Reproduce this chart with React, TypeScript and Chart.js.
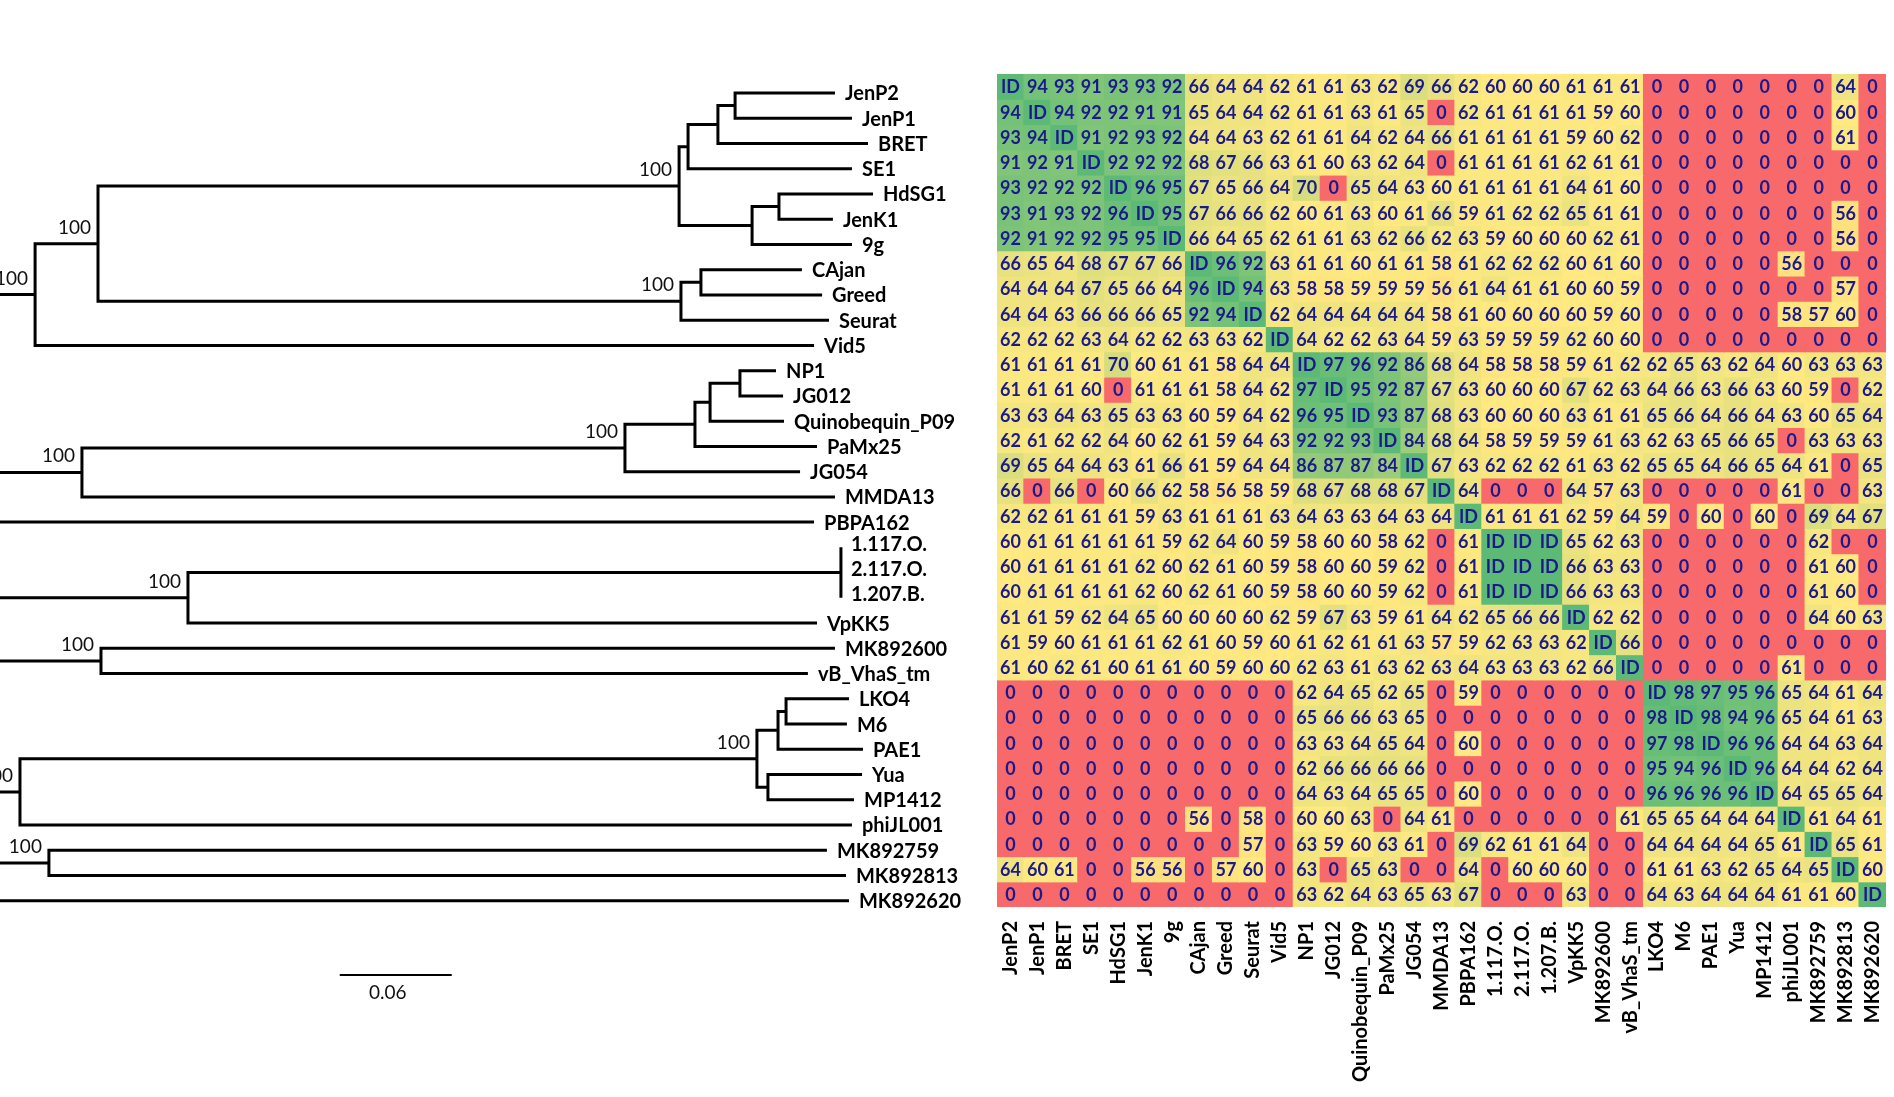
import React, { useEffect, useRef } from 'react';
import { Chart, registerables } from 'chart.js';

Chart.register(...registerables);

// ---------------- DATA ----------------
const phages = [
  'JenP2', 'JenP1', 'BRET', 'SE1', 'HdSG1', 'JenK1', '9g', 'CAjan', 'Greed', 'Seurat', 'Vid5',
  'NP1', 'JG012', 'Quinobequin_P09', 'PaMx25', 'JG054', 'MMDA13', 'PBPA162',
  '1.117.O.', '2.117.O.', '1.207.B.', 'VpKK5', 'MK892600', 'vB_VhaS_tm',
  'LKO4', 'M6', 'PAE1', 'Yua', 'MP1412', 'phiJL001', 'MK892759', 'MK892813', 'MK892620',
];

type Cell = number | 'ID';
const ID = 'ID' as const;

const rJenP2: Cell[] = [ID, 94, 93, 91, 93, 93, 92, 66, 64, 64, 62, 61, 61, 63, 62, 69, 66, 62, 60, 60, 60, 61, 61, 61, 0, 0, 0, 0, 0, 0, 0, 64, 0];
const rJenP1: Cell[] = [94, ID, 94, 92, 92, 91, 91, 65, 64, 64, 62, 61, 61, 63, 61, 65, 0, 62, 61, 61, 61, 61, 59, 60, 0, 0, 0, 0, 0, 0, 0, 60, 0];
const rBRET: Cell[] = [93, 94, ID, 91, 92, 93, 92, 64, 64, 63, 62, 61, 61, 64, 62, 64, 66, 61, 61, 61, 61, 59, 60, 62, 0, 0, 0, 0, 0, 0, 0, 61, 0];
const rSE1: Cell[] = [91, 92, 91, ID, 92, 92, 92, 68, 67, 66, 63, 61, 60, 63, 62, 64, 0, 61, 61, 61, 61, 62, 61, 61, 0, 0, 0, 0, 0, 0, 0, 0, 0];
const rHdSG1: Cell[] = [93, 92, 92, 92, ID, 96, 95, 67, 65, 66, 64, 70, 0, 65, 64, 63, 60, 61, 61, 61, 61, 64, 61, 60, 0, 0, 0, 0, 0, 0, 0, 0, 0];
const rJenK1: Cell[] = [93, 91, 93, 92, 96, ID, 95, 67, 66, 66, 62, 60, 61, 63, 60, 61, 66, 59, 61, 62, 62, 65, 61, 61, 0, 0, 0, 0, 0, 0, 0, 56, 0];
const r9g: Cell[] = [92, 91, 92, 92, 95, 95, ID, 66, 64, 65, 62, 61, 61, 63, 62, 66, 62, 63, 59, 60, 60, 60, 62, 61, 0, 0, 0, 0, 0, 0, 0, 56, 0];
const rCAjan: Cell[] = [66, 65, 64, 68, 67, 67, 66, ID, 96, 92, 63, 61, 61, 60, 61, 61, 58, 61, 62, 62, 62, 60, 61, 60, 0, 0, 0, 0, 0, 56, 0, 0, 0];
const rGreed: Cell[] = [64, 64, 64, 67, 65, 66, 64, 96, ID, 94, 63, 58, 58, 59, 59, 59, 56, 61, 64, 61, 61, 60, 60, 59, 0, 0, 0, 0, 0, 0, 0, 57, 0];
const rSeurat: Cell[] = [64, 64, 63, 66, 66, 66, 65, 92, 94, ID, 62, 64, 64, 64, 64, 64, 58, 61, 60, 60, 60, 60, 59, 60, 0, 0, 0, 0, 0, 58, 57, 60, 0];
const rVid5: Cell[] = [62, 62, 62, 63, 64, 62, 62, 63, 63, 62, ID, 64, 62, 62, 63, 64, 59, 63, 59, 59, 59, 62, 60, 60, 0, 0, 0, 0, 0, 0, 0, 0, 0];
const rNP1: Cell[] = [61, 61, 61, 61, 70, 60, 61, 61, 58, 64, 64, ID, 97, 96, 92, 86, 68, 64, 58, 58, 58, 59, 61, 62, 62, 65, 63, 62, 64, 60, 63, 63, 63];
const rJG012: Cell[] = [61, 61, 61, 60, 0, 61, 61, 61, 58, 64, 62, 97, ID, 95, 92, 87, 67, 63, 60, 60, 60, 67, 62, 63, 64, 66, 63, 66, 63, 60, 59, 0, 62];
const rQuino: Cell[] = [63, 63, 64, 63, 65, 63, 63, 60, 59, 64, 62, 96, 95, ID, 93, 87, 68, 63, 60, 60, 60, 63, 61, 61, 65, 66, 64, 66, 64, 63, 60, 65, 64];
const rPaMx25: Cell[] = [62, 61, 62, 62, 64, 60, 62, 61, 59, 64, 63, 92, 92, 93, ID, 84, 68, 64, 58, 59, 59, 59, 61, 63, 62, 63, 65, 66, 65, 0, 63, 63, 63];
const rJG054: Cell[] = [69, 65, 64, 64, 63, 61, 66, 61, 59, 64, 64, 86, 87, 87, 84, ID, 67, 63, 62, 62, 62, 61, 63, 62, 65, 65, 64, 66, 65, 64, 61, 0, 65];
const rMMDA13: Cell[] = [66, 0, 66, 0, 60, 66, 62, 58, 56, 58, 59, 68, 67, 68, 68, 67, ID, 64, 0, 0, 0, 64, 57, 63, 0, 0, 0, 0, 0, 61, 0, 0, 63];
const rPBPA162: Cell[] = [62, 62, 61, 61, 61, 59, 63, 61, 61, 61, 63, 64, 63, 63, 64, 63, 64, ID, 61, 61, 61, 62, 59, 64, 59, 0, 60, 0, 60, 0, 69, 64, 67];
const r1117O: Cell[] = [60, 61, 61, 61, 61, 61, 59, 62, 64, 60, 59, 58, 60, 60, 58, 62, 0, 61, ID, ID, ID, 65, 62, 63, 0, 0, 0, 0, 0, 0, 62, 0, 0];
const r2117O: Cell[] = [60, 61, 61, 61, 61, 62, 60, 62, 61, 60, 59, 58, 60, 60, 59, 62, 0, 61, ID, ID, ID, 66, 63, 63, 0, 0, 0, 0, 0, 0, 61, 60, 0];
const r1207B: Cell[] = [60, 61, 61, 61, 61, 62, 60, 62, 61, 60, 59, 58, 60, 60, 59, 62, 0, 61, ID, ID, ID, 66, 63, 63, 0, 0, 0, 0, 0, 0, 61, 60, 0];
const rVpKK5: Cell[] = [61, 61, 59, 62, 64, 65, 60, 60, 60, 60, 62, 59, 67, 63, 59, 61, 64, 62, 65, 66, 66, ID, 62, 62, 0, 0, 0, 0, 0, 0, 64, 60, 63];
const rMK892600: Cell[] = [61, 59, 60, 61, 61, 61, 62, 61, 60, 59, 60, 61, 62, 61, 61, 63, 57, 59, 62, 63, 63, 62, ID, 66, 0, 0, 0, 0, 0, 0, 0, 0, 0];
const rVhaS: Cell[] = [61, 60, 62, 61, 60, 61, 61, 60, 59, 60, 60, 62, 63, 61, 63, 62, 63, 64, 63, 63, 63, 62, 66, ID, 0, 0, 0, 0, 0, 61, 0, 0, 0];
const rLKO4: Cell[] = [0, 0, 0, 0, 0, 0, 0, 0, 0, 0, 0, 62, 64, 65, 62, 65, 0, 59, 0, 0, 0, 0, 0, 0, ID, 98, 97, 95, 96, 65, 64, 61, 64];
const rM6: Cell[] = [0, 0, 0, 0, 0, 0, 0, 0, 0, 0, 0, 65, 66, 66, 63, 65, 0, 0, 0, 0, 0, 0, 0, 0, 98, ID, 98, 94, 96, 65, 64, 61, 63];
const rPAE1: Cell[] = [0, 0, 0, 0, 0, 0, 0, 0, 0, 0, 0, 63, 63, 64, 65, 64, 0, 60, 0, 0, 0, 0, 0, 0, 97, 98, ID, 96, 96, 64, 64, 63, 64];
const rYua: Cell[] = [0, 0, 0, 0, 0, 0, 0, 0, 0, 0, 0, 62, 66, 66, 66, 66, 0, 0, 0, 0, 0, 0, 0, 0, 95, 94, 96, ID, 96, 64, 64, 62, 64];
const rMP1412: Cell[] = [0, 0, 0, 0, 0, 0, 0, 0, 0, 0, 0, 64, 63, 64, 65, 65, 0, 60, 0, 0, 0, 0, 0, 0, 96, 96, 96, 96, ID, 64, 65, 65, 64];
const rPhiJL001: Cell[] = [0, 0, 0, 0, 0, 0, 0, 56, 0, 58, 0, 60, 60, 63, 0, 64, 61, 0, 0, 0, 0, 0, 0, 61, 65, 65, 64, 64, 64, ID, 61, 64, 61];
const rMK892759: Cell[] = [0, 0, 0, 0, 0, 0, 0, 0, 0, 57, 0, 63, 59, 60, 63, 61, 0, 69, 62, 61, 61, 64, 0, 0, 64, 64, 64, 64, 65, 61, ID, 65, 61];
const rMK892813: Cell[] = [64, 60, 61, 0, 0, 56, 56, 0, 57, 60, 0, 63, 0, 65, 63, 0, 0, 64, 0, 60, 60, 60, 0, 0, 61, 61, 63, 62, 65, 64, 65, ID, 60];
const rMK892620: Cell[] = [0, 0, 0, 0, 0, 0, 0, 0, 0, 0, 0, 63, 62, 64, 63, 65, 63, 67, 0, 0, 0, 63, 0, 0, 64, 63, 64, 64, 64, 61, 61, 60, ID];

const identityRows: Cell[][] = [
  rJenP2, rJenP1, rBRET, rSE1, rHdSG1, rJenK1, r9g, rCAjan, rGreed, rSeurat, rVid5,
  rNP1, rJG012, rQuino, rPaMx25, rJG054, rMMDA13, rPBPA162,
  r1117O, r2117O, r1207B, rVpKK5, rMK892600, rVhaS,
  rLKO4, rM6, rPAE1, rYua, rMP1412, rPhiJL001, rMK892759, rMK892813, rMK892620,
];

// Tree: [node, parent, distance from the left edge of the drawing (substitutions/site)]
const treeEdges: [string, string, number][] = [
  ['g1', 'root', 0.0188],
  ['A', 'g1', 0.0525],
  ['B', 'A', 0.3638],
  ['C', 'B', 0.3686],
  ['D', 'C', 0.3846],
  ['E', 'D', 0.3938],
  ['JenP2', 'E', 0.4473],
  ['JenP1', 'E', 0.4564],
  ['BRET', 'D', 0.465],
  ['SE1', 'C', 0.4564],
  ['F', 'B', 0.4029],
  ['G', 'F', 0.4173],
  ['HdSG1', 'G', 0.4677],
  ['JenK1', 'G', 0.4462],
  ['9g', 'F', 0.4564],
  ['H', 'A', 0.3648],
  ['I', 'H', 0.3755],
  ['CAjan', 'I', 0.4296],
  ['Greed', 'I', 0.4404],
  ['Seurat', 'H', 0.4441],
  ['Vid5', 'g1', 0.4361],
  ['N', 'root', 0.0439],
  ['M', 'N', 0.3348],
  ['L', 'M', 0.3723],
  ['K', 'L', 0.3804],
  ['J', 'K', 0.3964],
  ['NP1', 'J', 0.4157],
  ['JG012', 'J', 0.4195],
  ['Quinobequin_P09', 'K', 0.42],
  ['PaMx25', 'L', 0.4377],
  ['JG054', 'M', 0.4286],
  ['MMDA13', 'N', 0.4473],
  ['PBPA162', 'root', 0.4361],
  ['O', 'root', 0.1007],
  ['T3', 'O', 0.4505],
  ['1.117.O.', 'T3', 0.4505],
  ['2.117.O.', 'T3', 0.4505],
  ['1.207.B.', 'T3', 0.4505],
  ['VpKK5', 'O', 0.4377],
  ['P', 'root', 0.0541],
  ['MK892600', 'P', 0.4473],
  ['vB_VhaS_tm', 'P', 0.4328],
  ['Q', 'root', 0.0107],
  ['R', 'Q', 0.4055],
  ['S', 'R', 0.4168],
  ['Tn', 'S', 0.4211],
  ['LKO4', 'Tn', 0.4548],
  ['M6', 'Tn', 0.4537],
  ['PAE1', 'S', 0.4623],
  ['U', 'R', 0.4114],
  ['Yua', 'U', 0.4618],
  ['MP1412', 'U', 0.4575],
  ['phiJL001', 'Q', 0.4564],
  ['V', 'root', 0.0262],
  ['MK892759', 'V', 0.443],
  ['MK892813', 'V', 0.4532],
  ['MK892620', 'root', 0.4548],
];
const rootDistance = -0.03;

const supportNodes = ['g1', 'A', 'B', 'H', 'N', 'M', 'O', 'P', 'Q', 'R', 'V'];
const supportValues = [100, 100, 100, 100, 100, 100, 100, 100, 100, 100, 100];

const scaleBarLength = 0.06;
const scaleBarLabel = '0.06';

// ---------------- LAYOUT / STYLE ----------------
const W = 1894;
const H = 1097;
const heatLeft = 997;
const heatTop = 74;
const heatW = 889;
const heatH = 833;
const treeW = 990;
const rowPx = heatH / phages.length;
const firstLeafPx = 93;
const pxPerUnit = 112 / 0.06;
const scaleBarStart = 0.182;
const scaleBarRow = 34.94;
const FONT = 'Lato, "Open Sans", "DejaVu Sans", sans-serif';

const cLow = [248, 105, 107];
const cMid = [255, 233, 128];
const cHigh = [92, 186, 118];
function cellColor(v: Cell): string {
  const n = v === 'ID' ? 100 : v;
  let a: number[], b: number[], t: number;
  if (n <= 60) { a = cLow; b = cMid; t = n / 60; } else { a = cMid; b = cHigh; t = (n - 60) / 40; }
  const c = a.map((x, k) => Math.round(x + (b[k] - x) * t));
  return `rgb(${c[0]},${c[1]},${c[2]})`;
}

// ---------------- TREE GEOMETRY ----------------
function buildTree() {
  const dist: Record<string, number> = { root: rootDistance };
  const parent: Record<string, string> = {};
  const children: Record<string, string[]> = {};
  treeEdges.forEach(([n, p, d]) => {
    dist[n] = d;
    parent[n] = p;
    (children[p] = children[p] || []).push(n);
  });
  const yOf: Record<string, number> = {};
  phages.forEach((n, i) => { yOf[n] = i; });
  const calcY = (n: string): number => {
    if (yOf[n] !== undefined) return yOf[n];
    const ys = children[n].map(calcY);
    yOf[n] = (Math.min(...ys) + Math.max(...ys)) / 2;
    return yOf[n];
  };
  calcY('root');
  const segments: { x: number; y: number }[][] = [];
  Object.keys(children).forEach((n) => {
    const ch = [...children[n]].sort((a, b) => yOf[a] - yOf[b]);
    const first = ch[0];
    const last = ch[ch.length - 1];
    segments.push([
      { x: dist[first], y: yOf[first] },
      { x: dist[n], y: yOf[first] },
      { x: dist[n], y: yOf[last] },
      { x: dist[last], y: yOf[last] },
    ]);
    ch.slice(1, -1).forEach((c) => {
      segments.push([{ x: dist[n], y: yOf[c] }, { x: dist[c], y: yOf[c] }]);
    });
  });
  return { dist, parent, yOf, segments };
}

export default function App() {
  const treeRef = useRef<HTMLCanvasElement>(null);
  const heatRef = useRef<HTMLCanvasElement>(null);

  useEffect(() => {
    document.body.style.margin = '0';
    const { dist, parent, yOf, segments } = buildTree();
    const yMin = -firstLeafPx / rowPx;
    const yMax = yMin + H / rowPx;

    const treeDatasets: any[] = segments.map((seg) => ({
      data: seg,
      showLine: true,
      borderColor: '#000',
      borderWidth: 3,
      pointRadius: 0,
      borderJoinStyle: 'miter',
      borderCapStyle: 'butt',
    }));
    treeDatasets.push({
      data: [
        { x: scaleBarStart, y: scaleBarRow },
        { x: scaleBarStart + scaleBarLength, y: scaleBarRow },
      ],
      showLine: true,
      borderColor: '#000',
      borderWidth: 2,
      pointRadius: 0,
    });

    const treeLabels = {
      id: 'treeLabels',
      afterDatasetsDraw(chart: any) {
        const ctx = chart.ctx;
        const xs = chart.scales.x;
        const ys = chart.scales.y;
        ctx.save();
        ctx.fillStyle = '#000';
        ctx.font = `bold 20px ${FONT}`;
        ctx.textAlign = 'left';
        ctx.textBaseline = 'middle';
        phages.forEach((n) => {
          const collapsed = dist[n] === dist[parent[n]];
          ctx.fillText(
            n,
            xs.getPixelForValue(dist[n]) + 10,
            ys.getPixelForValue(yOf[n]) + (collapsed ? -3 : 1)
          );
        });
        ctx.font = `19px ${FONT}`;
        ctx.fillStyle = '#111';
        ctx.textAlign = 'right';
        ctx.textBaseline = 'alphabetic';
        supportNodes.forEach((n, k) => {
          ctx.fillText(String(supportValues[k]), xs.getPixelForValue(dist[n]) - 7, ys.getPixelForValue(yOf[n]) - 10);
        });
        ctx.textAlign = 'center';
        ctx.textBaseline = 'middle';
        ctx.fillText(
          scaleBarLabel,
          xs.getPixelForValue(scaleBarStart + scaleBarLength / 2) - 8,
          ys.getPixelForValue(scaleBarRow) + 18
        );
        ctx.restore();
      },
    };

    const treeChart = new Chart(treeRef.current as HTMLCanvasElement, {
      type: 'scatter',
      data: { datasets: treeDatasets },
      options: {
        responsive: false,
        animation: false,
        events: [],
        layout: { padding: 0 },
        plugins: { legend: { display: false }, tooltip: { enabled: false } },
        scales: {
          x: { type: 'linear', display: false, min: 0, max: treeW / pxPerUnit },
          y: { type: 'linear', display: false, reverse: true, min: yMin, max: yMax },
        },
      },
      plugins: [treeLabels],
    } as any);

    const heatDatasets = identityRows.map((row, i) => ({
      label: phages[i],
      data: row.map(() => 1),
      backgroundColor: row.map((v) => cellColor(v)),
      borderWidth: 0,
      inflateAmount: 0.6,
      barPercentage: 1,
      categoryPercentage: 1,
      stack: 'matrix',
    }));

    const cellText = {
      id: 'cellText',
      afterDatasetsDraw(chart: any) {
        const ctx = chart.ctx;
        ctx.save();
        ctx.font = `bold 18px ${FONT}`;
        ctx.fillStyle = '#1a1a8c';
        ctx.textAlign = 'center';
        ctx.textBaseline = 'middle';
        identityRows.forEach((row, i) => {
          const meta = chart.getDatasetMeta(i);
          meta.data.forEach((el: any, j: number) => {
            const p = el.getProps(['x', 'y', 'base'], true);
            ctx.fillText(String(row[j]), p.x, (p.y + p.base) / 2 + 1);
          });
        });
        ctx.restore();
      },
    };

    const heatChart = new Chart(heatRef.current as HTMLCanvasElement, {
      type: 'bar',
      data: { labels: phages, datasets: heatDatasets },
      options: {
        responsive: false,
        animation: false,
        events: [],
        layout: { padding: 0 },
        plugins: { legend: { display: false }, tooltip: { enabled: false } },
        scales: {
          x: {
            type: 'category',
            stacked: true,
            offset: true,
            grid: { display: false },
            border: { display: false },
            ticks: {
              autoSkip: false,
              minRotation: 90,
              maxRotation: 90,
              padding: 6,
              color: '#000',
              font: { family: FONT, weight: 'bold', size: 20 },
            },
            afterFit: (s: any) => {
              s.height = H - heatTop - heatH;
              s.paddingLeft = 0;
              s.paddingRight = 0;
            },
          },
          y: { type: 'linear', stacked: true, display: false, reverse: true, min: 0, max: phages.length },
        },
      },
      plugins: [cellText],
    } as any);

    return () => {
      treeChart.destroy();
      heatChart.destroy();
    };
  }, []);

  return (
    <div style={{ position: 'absolute', left: 0, top: 0, width: W, height: H, background: '#fff', overflow: 'hidden' }}>
      <canvas
        ref={treeRef}
        width={treeW}
        height={H}
        style={{ position: 'absolute', left: 0, top: 0, width: treeW, height: H }}
      />
      <canvas
        ref={heatRef}
        width={heatW}
        height={H - heatTop}
        style={{ position: 'absolute', left: heatLeft, top: heatTop, width: heatW, height: H - heatTop }}
      />
    </div>
  );
}
